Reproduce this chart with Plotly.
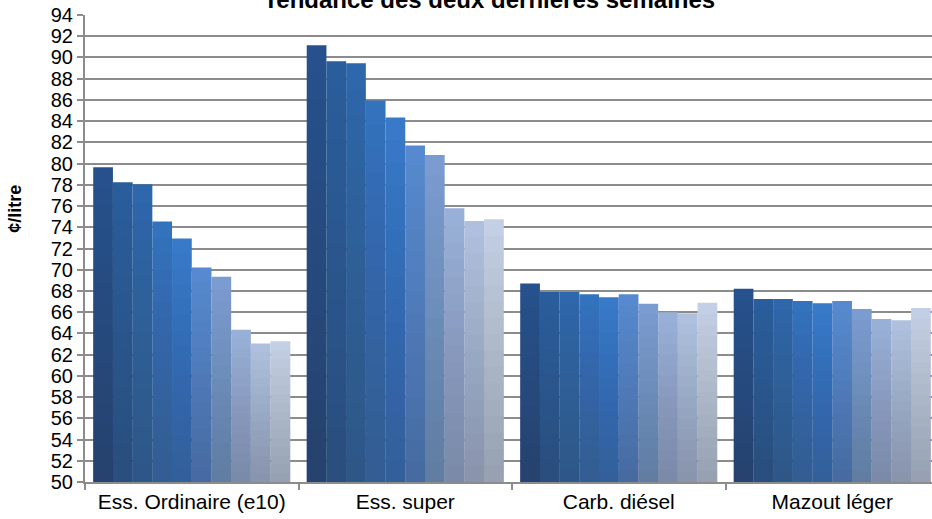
import plotly.graph_objects as go

categories = ["Ess. Ordinaire (e10)", "Ess. super", "Carb. diésel", "Mazout léger"]

# 10 weekly observations (oldest -> newest) per product, ¢/litre
s01 = [79.65, 91.15, 68.7, 68.2]
s02 = [78.25, 89.65, 67.9, 67.25]
s03 = [78.05, 89.45, 67.9, 67.25]
s04 = [74.55, 85.95, 67.7, 67.05]
s05 = [72.95, 84.35, 67.4, 66.85]
s06 = [70.2, 81.7, 67.7, 67.05]
s07 = [69.35, 80.8, 66.8, 66.3]
s08 = [64.35, 75.8, 66.0, 65.35]
s09 = [63.05, 74.6, 65.9, 65.25]
s10 = [63.25, 74.75, 66.9, 66.4]
series = [s01, s02, s03, s04, s05, s06, s07, s08, s09, s10]

top_colors = ["#26518c", "#2a5d9c", "#2e67ab", "#3372bd", "#3879c8",
              "#5689cf", "#7b9cd0", "#98b0d8", "#afc0df", "#c3cfe4"]

y_min, y_max = 50, 94
font_family = "Liberation Sans, Arial, sans-serif"

fig = go.Figure()
N = 16
for i, (vals, col) in enumerate(zip(series, top_colors)):
    fig.add_trace(go.Bar(
        x=categories, y=vals, marker=dict(color=col, line=dict(width=0)),
        offsetgroup=str(i), hoverinfo="skip", showlegend=False,
    ))
    # darkening overlays to imitate the vertical gradient of each bar
    for k in range(1, N):
        fig.add_trace(go.Bar(
            x=categories, y=[(v - y_min) * k / N for v in vals], base=y_min,
            marker=dict(color="rgba(40,42,55,0.021)", line=dict(width=0)),
            offsetgroup=str(i), hoverinfo="skip", showlegend=False,
        ))

cat_px = 213.5
plot_w = 932 - 85
x_hi = -0.5 + plot_w / cat_px

fig.update_layout(
    width=932, height=519,
    margin=dict(l=85, r=0, t=15, b=37, autoexpand=False),
    paper_bgcolor="white", plot_bgcolor="white",
    barmode="group", bargap=0.077, bargroupgap=0,
    font=dict(family=font_family, color="black"),
    title=dict(text="<b>Tendance des deux dernières semaines</b>",
               x=0.525, xanchor="center", y=0.984, yanchor="bottom",
               yref="container", font=dict(size=24, color="black")),
    showlegend=False,
)
fig.update_xaxes(
    range=[-0.5, x_hi], showgrid=False, showline=True, linecolor="#8c8c8c", linewidth=2,
    ticks="outside", tickson="boundaries", ticklen=6, tickcolor="#8c8c8c", tickwidth=2,
    tickfont=dict(size=21, family=font_family, color="black"), automargin=False,
)
fig.update_yaxes(
    range=[y_min, y_max], dtick=2, tick0=50, showgrid=True, gridcolor="#8c8c8c", gridwidth=2,
    showline=True, linecolor="#8c8c8c", linewidth=2,
    ticks="outside", ticklen=6, tickcolor="#8c8c8c", tickwidth=2,
    tickfont=dict(size=20, family=font_family, color="black"), zeroline=False,
    automargin=False,
)
fig.add_annotation(
    text="<b>¢/litre</b>", textangle=-90, xref="paper", yref="paper",
    x=0, xshift=-70, xanchor="center", y=0.585, yanchor="middle", showarrow=False,
    font=dict(size=18, family=font_family, color="black"),
)

fig.write_html("out.html", config={"displayModeBar": False},
               post_script="document.body.style.margin='0';")
